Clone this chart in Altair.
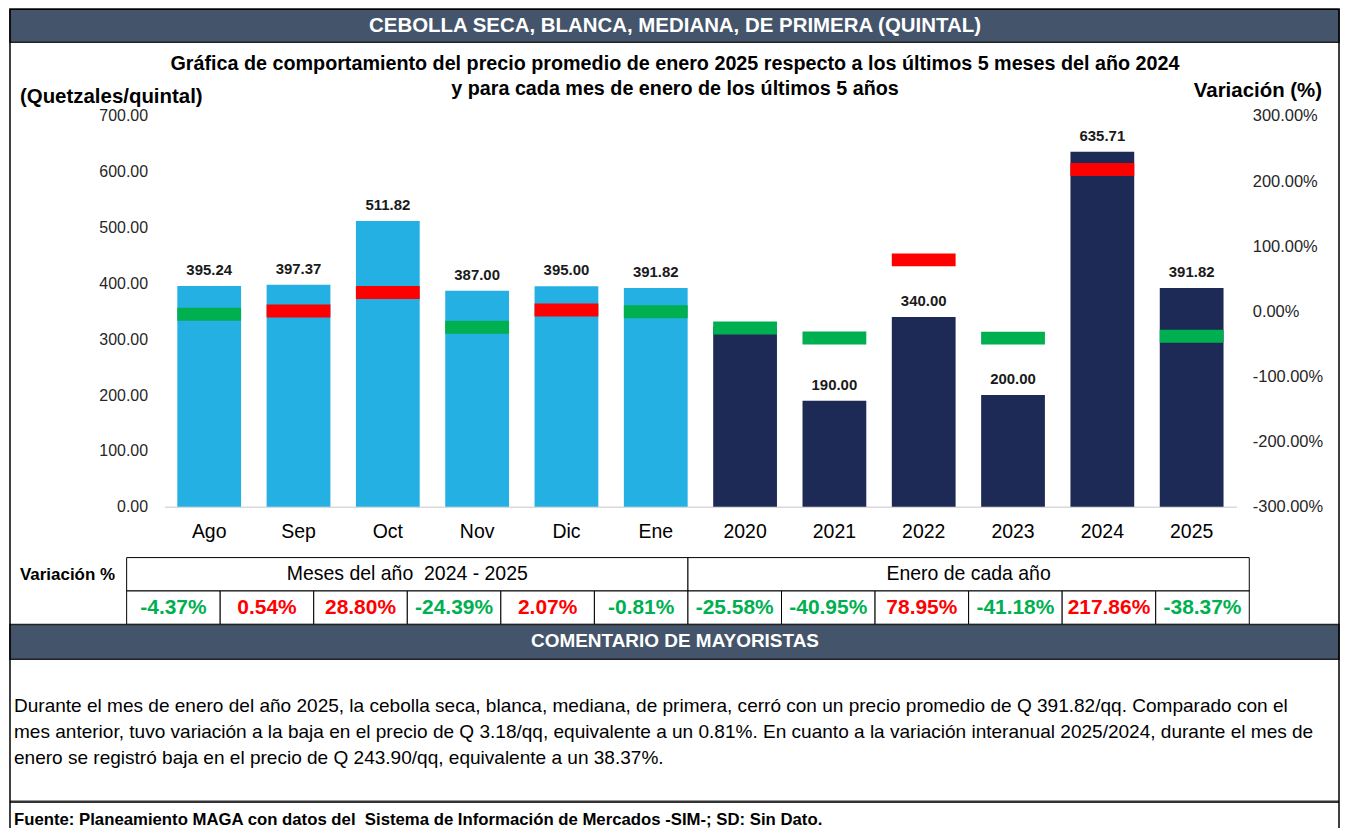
import altair as alt
import pandas as pd

# ---------------- data ----------------
categories = ["Ago", "Sep", "Oct", "Nov", "Dic", "Ene", "2020", "2021", "2022", "2023", "2024", "2025"]
prices = [395.24, 397.37, 511.82, 387.00, 395.00, 391.82, 321.76, 190.00, 340.00, 200.00, 635.71, 391.82]
price_labels = ["395.24", "397.37", "511.82", "387.00", "395.00", "391.82", "", "190.00", "340.00", "200.00", "635.71", "391.82"]
variations = [-4.37, 0.54, 28.80, -24.39, 2.07, -0.81, -25.58, -40.95, 78.95, -41.18, 217.86, -38.37]
group_names = ["Meses del año\u00a0 2024 - 2025", "Enero de cada año"]
groups = [group_names[0]] * 6 + [group_names[1]] * 6
price_ticks = [0, 100, 200, 300, 400, 500, 600, 700]
var_ticks = [-300, -200, -100, 0, 100, 200, 300]

title = "CEBOLLA SECA, BLANCA, MEDIANA, DE PRIMERA (QUINTAL)"
subtitle = [
    "Gráfica de comportamiento del precio promedio de enero 2025 respecto a los últimos 5 meses del año 2024",
    "y para cada mes de enero de los últimos 5 años",
]
left_title = "(Quetzales/quintal)"
right_title = "Variación (%)"
table_label = "Variación %"
comment_title = "COMENTARIO DE MAYORISTAS"
comment_lines = [
    "Durante el mes de enero del año 2025, la cebolla seca, blanca, mediana, de primera, cerró con un precio promedio de Q 391.82/qq. Comparado con el",
    "mes anterior, tuvo variación a la baja en el precio de Q 3.18/qq, equivalente a un 0.81%. En cuanto a la variación interanual 2025/2024, durante el mes de",
    "enero se registró baja en el precio de Q 243.90/qq, equivalente a un 38.37%.",
]
source = "Fuente: Planeamiento MAGA con datos del\u00a0 Sistema de Información de Mercados -SIM-; SD: Sin Dato."

# ---------------- styling ----------------
LIGHT = "#25B0E4"
NAVY = "#1D2A55"
RED = "#FF0000"
GREEN = "#00B050"
SLATE = "#44546A"
FONT = "Liberation Sans"

W, H = 1336, 820
PX0, PX1 = 157, 1232      # plot area x
PY0, PY1 = 499, 107       # plot area y (bottom, top)
TX0, TX1 = 119, 1245      # table x
TY0, TY1 = 550, 617       # table y

df = pd.DataFrame({
    "cat": categories,
    "price": prices,
    "label": price_labels,
    "var": variations,
    "group": groups,
})
df["sign"] = ["sube" if v > 0 else "baja" for v in variations]
df["var_text"] = [f"{v:.2f}%" for v in variations]
df["row"] = "valores"

hdf = pd.DataFrame({"group": group_names, "row": ["encabezado", "encabezado"]})

x_main_scale = alt.Scale(domain=categories, range=[PX0, PX1], paddingInner=0.286, paddingOuter=0.143)
price_scale = alt.Scale(domain=[0, 700], range=[PY0, PY1], nice=False, zero=False)
var_scale = alt.Scale(domain=[-300, 300], range=[PY0, PY1], nice=False, zero=False)
group_color = alt.Scale(domain=group_names, range=[LIGHT, NAVY])
sign_color = alt.Scale(domain=["sube", "baja"], range=[RED, GREEN])
tx_scale = alt.Scale(domain=categories, range=[TX0, TX1], paddingInner=0, paddingOuter=0)
tg_scale = alt.Scale(domain=group_names, range=[TX0, TX1], paddingInner=0, paddingOuter=0)
row_scale = alt.Scale(domain=["encabezado", "valores"], range=[TY0, TY1], paddingInner=0, paddingOuter=0)

one = pd.DataFrame({"t": [""]})


def txt(text, x, y, size, weight="normal", color="black", align="center"):
    return alt.Chart(pd.DataFrame({"t": [text]})).mark_text(
        fontSize=size, fontWeight=weight, color=color, align=align, baseline="middle"
    ).encode(x=alt.value(x), y=alt.value(y), text="t:N")


def box(x0, x1, y0, y1, fill, stroke="black", sw=1.0):
    return alt.Chart(one).mark_rect(fill=fill, stroke=stroke, strokeWidth=sw).encode(
        x=alt.value(x0), x2=alt.value(x1), y=alt.value(y0), y2=alt.value(y1)
    )


# ---------------- header ----------------
header_bar = box(2, 1335, 0, 33, SLATE, stroke="#222222", sw=1.5)
header_txt = txt(title, 669, 17, 20.5, "bold", "white")
sub1 = txt(subtitle[0], 669, 55, 19.8, "bold")
sub2 = txt(subtitle[1], 669, 80, 19.8, "bold")
lt = txt(left_title, 12, 88, 20.5, "bold", align="left")
rt = txt(right_title, 1318, 82, 20.5, "bold", align="right")

# ---------------- main chart ----------------
bars = alt.Chart(df).mark_bar().encode(
    x=alt.X("cat:N", scale=x_main_scale, sort=categories,
            axis=alt.Axis(orient="bottom", offset=PY0 - H, title=None, labelAngle=0, labelFontSize=19.5,
                          labelColor="black", labelPadding=16, ticks=False, domainColor="#D9D9D9",
                          domainWidth=1.5, grid=False)),
    y=alt.Y("price:Q", scale=price_scale,
            axis=alt.Axis(orient="left", offset=-PX0, values=price_ticks, format=".2f", title=None,
                          ticks=False, domain=False, grid=False, labelFontSize=16, labelPadding=17,
                          labelColor="#262626")),
    color=alt.Color("group:N", scale=group_color, legend=None),
)

value_labels = alt.Chart(df).mark_text(dy=-16, fontSize=15, fontWeight="bold", color="#1a1a1a",
                                       baseline="middle").encode(
    x=alt.X("cat:N", scale=x_main_scale, sort=categories, axis=None),
    y=alt.Y("price:Q", scale=price_scale, axis=None),
    text="label:N",
)

markers = alt.Chart(df).mark_tick(thickness=13, size=64, opacity=1).encode(
    x=alt.X("cat:N", scale=x_main_scale, sort=categories, axis=None),
    y=alt.Y("var:Q", scale=var_scale,
            axis=alt.Axis(orient="right", offset=-(W - PX1), values=var_ticks, title=None,
                          labelExpr="(datum.value < 0 ? '-' : '') + format(abs(datum.value), '.2f') + '%'",
                          ticks=False, domain=False, grid=False, labelFontSize=16.5, labelPadding=16,
                          labelColor="#262626")),
    color=alt.Color("sign:N", scale=sign_color, legend=None),
)

# ---------------- table ----------------
tlabel = txt(table_label, 12, 567, 17, "bold", align="left")
head_cells = alt.Chart(hdf).mark_rect(fill="white", stroke="black", strokeWidth=1).encode(
    x=alt.X("group:N", scale=tg_scale, sort=group_names, axis=None),
    y=alt.Y("row:N", scale=row_scale, axis=None),
)
head_text = alt.Chart(hdf).mark_text(fontSize=19.5, color="black", baseline="middle").encode(
    x=alt.X("group:N", scale=tg_scale, sort=group_names, axis=None),
    y=alt.Y("row:N", scale=row_scale, axis=None),
    text="group:N",
)
val_cells = alt.Chart(df).mark_rect(fill="white", stroke="black", strokeWidth=1).encode(
    x=alt.X("cat:N", scale=tx_scale, sort=categories, axis=None),
    y=alt.Y("row:N", scale=row_scale, axis=None),
)
val_text = alt.Chart(df).mark_text(fontSize=21, fontWeight="bold", baseline="middle").encode(
    x=alt.X("cat:N", scale=tx_scale, sort=categories, axis=None),
    y=alt.Y("row:N", scale=row_scale, axis=None),
    text="var_text:N",
    color=alt.Color("sign:N", scale=sign_color, legend=None),
)

# ---------------- comment + footer ----------------
comment_bar = box(2, 1335, 617, 652, SLATE, stroke="#222222", sw=1.5)
comment_head = txt(comment_title, 669, 634, 19, "bold", "white")
c1 = txt(comment_lines[0], 6, 699, 19.1, align="left")
c2 = txt(comment_lines[1], 6, 725, 19.1, align="left")
c3 = txt(comment_lines[2], 6, 751, 19.1, align="left")
foot_line = alt.Chart(one).mark_rule(color="#333333", strokeWidth=2.5).encode(
    x=alt.value(2), x2=alt.value(1335), y=alt.value(795)
)
foot = txt(source, 6, 813, 16.8, "bold", align="left")

frame = alt.Chart(one).mark_rect(fill="transparent", stroke="black", strokeWidth=1.5).encode(
    x=alt.value(2), x2=alt.value(1335), y=alt.value(0), y2=alt.value(840)
)

chart = alt.layer(
    header_bar, header_txt, sub1, sub2, lt, rt,
    bars, markers, value_labels,
    tlabel, head_cells, head_text, val_cells, val_text,
    comment_bar, comment_head, c1, c2, c3, foot_line, foot, frame,
).resolve_scale(
    x="independent", y="independent", color="independent"
).properties(
    width=W, height=H, padding=0, background="white",
    autosize=alt.AutoSizeParams(type="none"),
).configure(font=FONT).configure_view(strokeWidth=0)

chart.save("out.html", embed_options={"renderer": "svg", "actions": False})
